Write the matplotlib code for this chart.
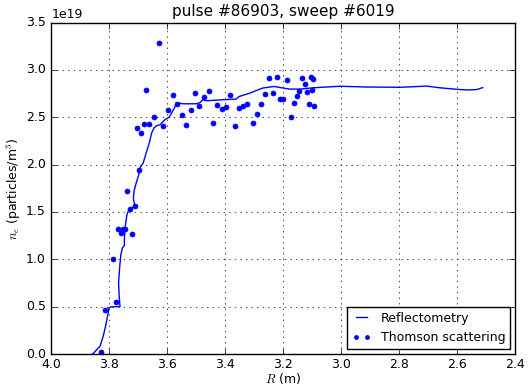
import matplotlib
matplotlib.use("Agg")
import matplotlib.pyplot as plt
import numpy as np

plt.style.use("classic")

# reflectometry profile (R in m, ne in 1e19 m^-3)
refl_r = [3.857, 3.843, 3.832, 3.821, 3.813, 3.806, 3.801, 3.794, 3.763, 3.766,
          3.768, 3.764, 3.760, 3.755, 3.748, 3.748, 3.746, 3.743, 3.739, 3.733,
          3.722, 3.712, 3.717, 3.715, 3.710, 3.700, 3.692, 3.683, 3.673, 3.662,
          3.654, 3.646, 3.637, 3.625, 3.608, 3.593, 3.579, 3.570, 3.562, 3.545,
          3.499, 3.487, 3.478, 3.464, 3.407, 3.363, 3.352, 3.315, 3.271, 3.232,
          3.200, 3.177, 3.142, 3.097, 3.004, 2.912, 2.798, 2.752, 2.706, 2.660,
          2.602, 2.568, 2.533, 2.512]
refl_ne = [0.0, 0.047, 0.082, 0.188, 0.293, 0.399, 0.487, 0.498, 0.501, 0.610,
           0.754, 0.926, 1.050, 1.120, 1.145, 1.208, 1.313, 1.398, 1.472, 1.519,
           1.542, 1.566, 1.640, 1.714, 1.777, 1.876, 1.978, 2.017, 2.122, 2.228,
           2.333, 2.386, 2.410, 2.421, 2.474, 2.502, 2.579, 2.632, 2.650, 2.642,
           2.642, 2.656, 2.685, 2.674, 2.685, 2.692, 2.719, 2.755, 2.808, 2.825,
           2.808, 2.797, 2.797, 2.811, 2.827, 2.819, 2.816, 2.822, 2.829, 2.811,
           2.795, 2.788, 2.792, 2.813]

# Thomson scattering points
ts_r = [3.830, 3.814, 3.777, 3.786, 3.770, 3.761, 3.754, 3.745, 3.722, 3.729,
        3.713, 3.738, 3.698, 3.706, 3.690, 3.680, 3.662, 3.673, 3.646, 3.630,
        3.614, 3.598, 3.581, 3.566, 3.549, 3.536, 3.519, 3.503, 3.490, 3.473,
        3.457, 3.443, 3.428, 3.412, 3.398, 3.383, 3.368, 3.353, 3.338, 3.324,
        3.303, 3.290, 3.276, 3.262, 3.249, 3.236, 3.223, 3.211, 3.200, 3.188,
        3.174, 3.163, 3.154, 3.145, 3.136, 3.126, 3.119, 3.112, 3.106, 3.101,
        3.097, 3.094]
ts_ne = [0.02, 0.469, 0.554, 1.004, 1.324, 1.276, 1.324, 1.324, 1.271, 1.530,
         1.561, 1.719, 1.946, 2.382, 2.333, 2.424, 2.424, 2.783, 2.502, 3.283,
         2.403, 2.576, 2.730, 2.639, 2.523, 2.418, 2.572, 2.751, 2.614, 2.716,
         2.780, 2.442, 2.624, 2.590, 2.603, 2.737, 2.410, 2.600, 2.614, 2.642,
         2.435, 2.530, 2.635, 2.748, 2.909, 2.755, 2.927, 2.692, 2.695, 2.896,
         2.502, 2.646, 2.727, 2.780, 2.909, 2.853, 2.769, 2.635, 2.930, 2.790,
         2.899, 2.621]

scale = 1e19

fig = plt.figure(figsize=(5.29, 3.85), dpi=100, facecolor="white")
ax = fig.add_axes([0.097, 0.0805, 0.877, 0.861])

ax.plot(refl_r, np.array(refl_ne) * scale, "b-", lw=1, label="Reflectometry")
ax.plot(ts_r, np.array(ts_ne) * scale, "bo", ms=3.6, mec="b", label="Thomson scattering")

ax.set_xlim(4.0, 2.4)
ax.set_ylim(0, 3.5e19)
ax.grid(True)
ax.tick_params(labelsize=9)
ax.tick_params(axis="x", pad=3)
ax.yaxis.get_offset_text().set_fontsize(9)

ax.set_title("pulse #86903, sweep #6019", fontsize=11)
ax.set_xlabel("$R$ (m)", fontsize=9)
ax.set_ylabel("$n_e$ (particles/m$^3$)", fontsize=9)
ax.xaxis.set_label_coords(0.5, -0.052)
ax.yaxis.set_label_coords(-0.06, 0.5)
ax.legend(loc="lower right", fontsize=9, numpoints=2, handlelength=1.5,
          markerscale=0.8, borderaxespad=0.4)

fig.savefig("out.png", dpi=100, facecolor="white")
